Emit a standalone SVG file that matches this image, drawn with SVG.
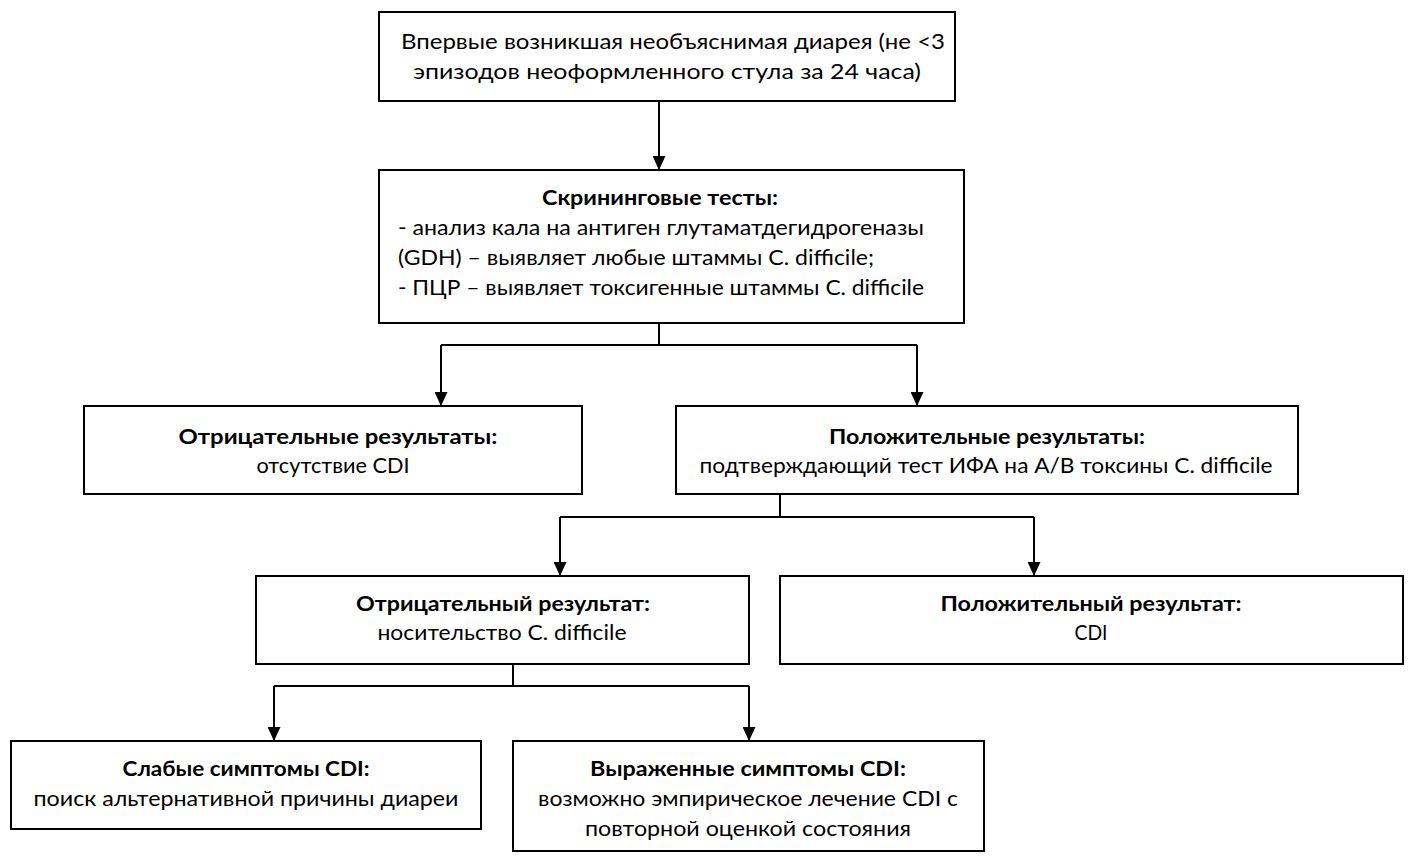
<svg xmlns="http://www.w3.org/2000/svg" width="1418" height="868" viewBox="0 0 1418 868">
<style>
.box{fill:#fff;stroke:#000;stroke-width:2}
.t{font-family:Lato,"Liberation Sans",sans-serif;font-size:21px;fill:#000;text-anchor:middle}
.l{text-anchor:start}
.b{font-weight:bold}
.c{fill:none;stroke:#000;stroke-width:2}
</style>
<defs>
<marker id="ah" viewBox="0 0 14 13" refX="14" refY="6.5" markerWidth="14" markerHeight="13" markerUnits="userSpaceOnUse" orient="auto">
<path d="M0,0 L14,6.5 L0,13 Z" fill="#000"/>
</marker>
</defs>
<rect width="1418" height="868" fill="#fff"/>
<g id="connectors">
<path class="c" d="M659,101 V170" marker-end="url(#ah)"/>
<path class="c" d="M659,323 V345"/>
<path class="c" d="M441,345 H917"/>
<path class="c" d="M441,345 V406" marker-end="url(#ah)"/>
<path class="c" d="M917,345 V406" marker-end="url(#ah)"/>
<path class="c" d="M780,494 V517"/>
<path class="c" d="M560,517 H1034"/>
<path class="c" d="M560,517 V576" marker-end="url(#ah)"/>
<path class="c" d="M1034,517 V576" marker-end="url(#ah)"/>
<path class="c" d="M513,664 V686"/>
<path class="c" d="M274,686 H749"/>
<path class="c" d="M274,686 V741" marker-end="url(#ah)"/>
<path class="c" d="M749,686 V741" marker-end="url(#ah)"/>
</g>
<g id="n1">
<rect class="box" x="379" y="12" width="576" height="89"/>
<text class="t" x="673" y="49" textLength="544" lengthAdjust="spacingAndGlyphs">Впервые возникшая необъяснимая диарея (не &lt;3</text>
<text class="t" x="667" y="79" textLength="508" lengthAdjust="spacingAndGlyphs">эпизодов неоформленного стула за 24 часа)</text>
</g>
<g id="n2">
<rect class="box" x="379" y="170" width="585" height="153"/>
<text class="t b" x="660" y="205" textLength="236" lengthAdjust="spacingAndGlyphs">Скрининговые тесты:</text>
<text class="t l" x="398" y="235" textLength="526" lengthAdjust="spacingAndGlyphs">- анализ кала на антиген глутаматдегидрогеназы</text>
<text class="t l" x="398" y="265" textLength="476" lengthAdjust="spacingAndGlyphs">(GDH) – выявляет любые штаммы C. difficile;</text>
<text class="t l" x="398" y="295" textLength="526" lengthAdjust="spacingAndGlyphs">- ПЦР – выявляет токсигенные штаммы C. difficile</text>
</g>
<g id="n3">
<rect class="box" x="84" y="406" width="498" height="88"/>
<text class="t b" x="338" y="444" textLength="319" lengthAdjust="spacingAndGlyphs">Отрицательные результаты:</text>
<text class="t" x="333" y="473" textLength="153" lengthAdjust="spacingAndGlyphs">отсутствие CDI</text>
</g>
<g id="n4">
<rect class="box" x="676" y="406" width="622" height="88"/>
<text class="t b" x="987" y="444" textLength="316" lengthAdjust="spacingAndGlyphs">Положительные результаты:</text>
<text class="t" x="986" y="473" textLength="573" lengthAdjust="spacingAndGlyphs">подтверждающий тест ИФА на A/B токсины C. difficile</text>
</g>
<g id="n5">
<rect class="box" x="256" y="576" width="493" height="88"/>
<text class="t b" x="503" y="611" textLength="294" lengthAdjust="spacingAndGlyphs">Отрицательный результат:</text>
<text class="t" x="502" y="640" textLength="249" lengthAdjust="spacingAndGlyphs">носительство C. difficile</text>
</g>
<g id="n6">
<rect class="box" x="780" y="576" width="623" height="88"/>
<text class="t b" x="1091" y="611" textLength="301" lengthAdjust="spacingAndGlyphs">Положительный результат:</text>
<text class="t" x="1091" y="640" textLength="33" lengthAdjust="spacingAndGlyphs">CDI</text>
</g>
<g id="n7">
<rect class="box" x="11" y="741" width="470" height="88"/>
<text class="t b" x="246" y="776" textLength="247" lengthAdjust="spacingAndGlyphs">Слабые симптомы CDI:</text>
<text class="t" x="246" y="806" textLength="425" lengthAdjust="spacingAndGlyphs">поиск альтернативной причины диареи</text>
</g>
<g id="n8">
<rect class="box" x="513" y="741" width="471" height="110"/>
<text class="t b" x="748" y="776" textLength="316" lengthAdjust="spacingAndGlyphs">Выраженные симптомы CDI:</text>
<text class="t" x="748" y="806" textLength="420" lengthAdjust="spacingAndGlyphs">возможно эмпирическое лечение CDI с</text>
<text class="t" x="748" y="836" textLength="326" lengthAdjust="spacingAndGlyphs">повторной оценкой состояния</text>
</g>
</svg>
